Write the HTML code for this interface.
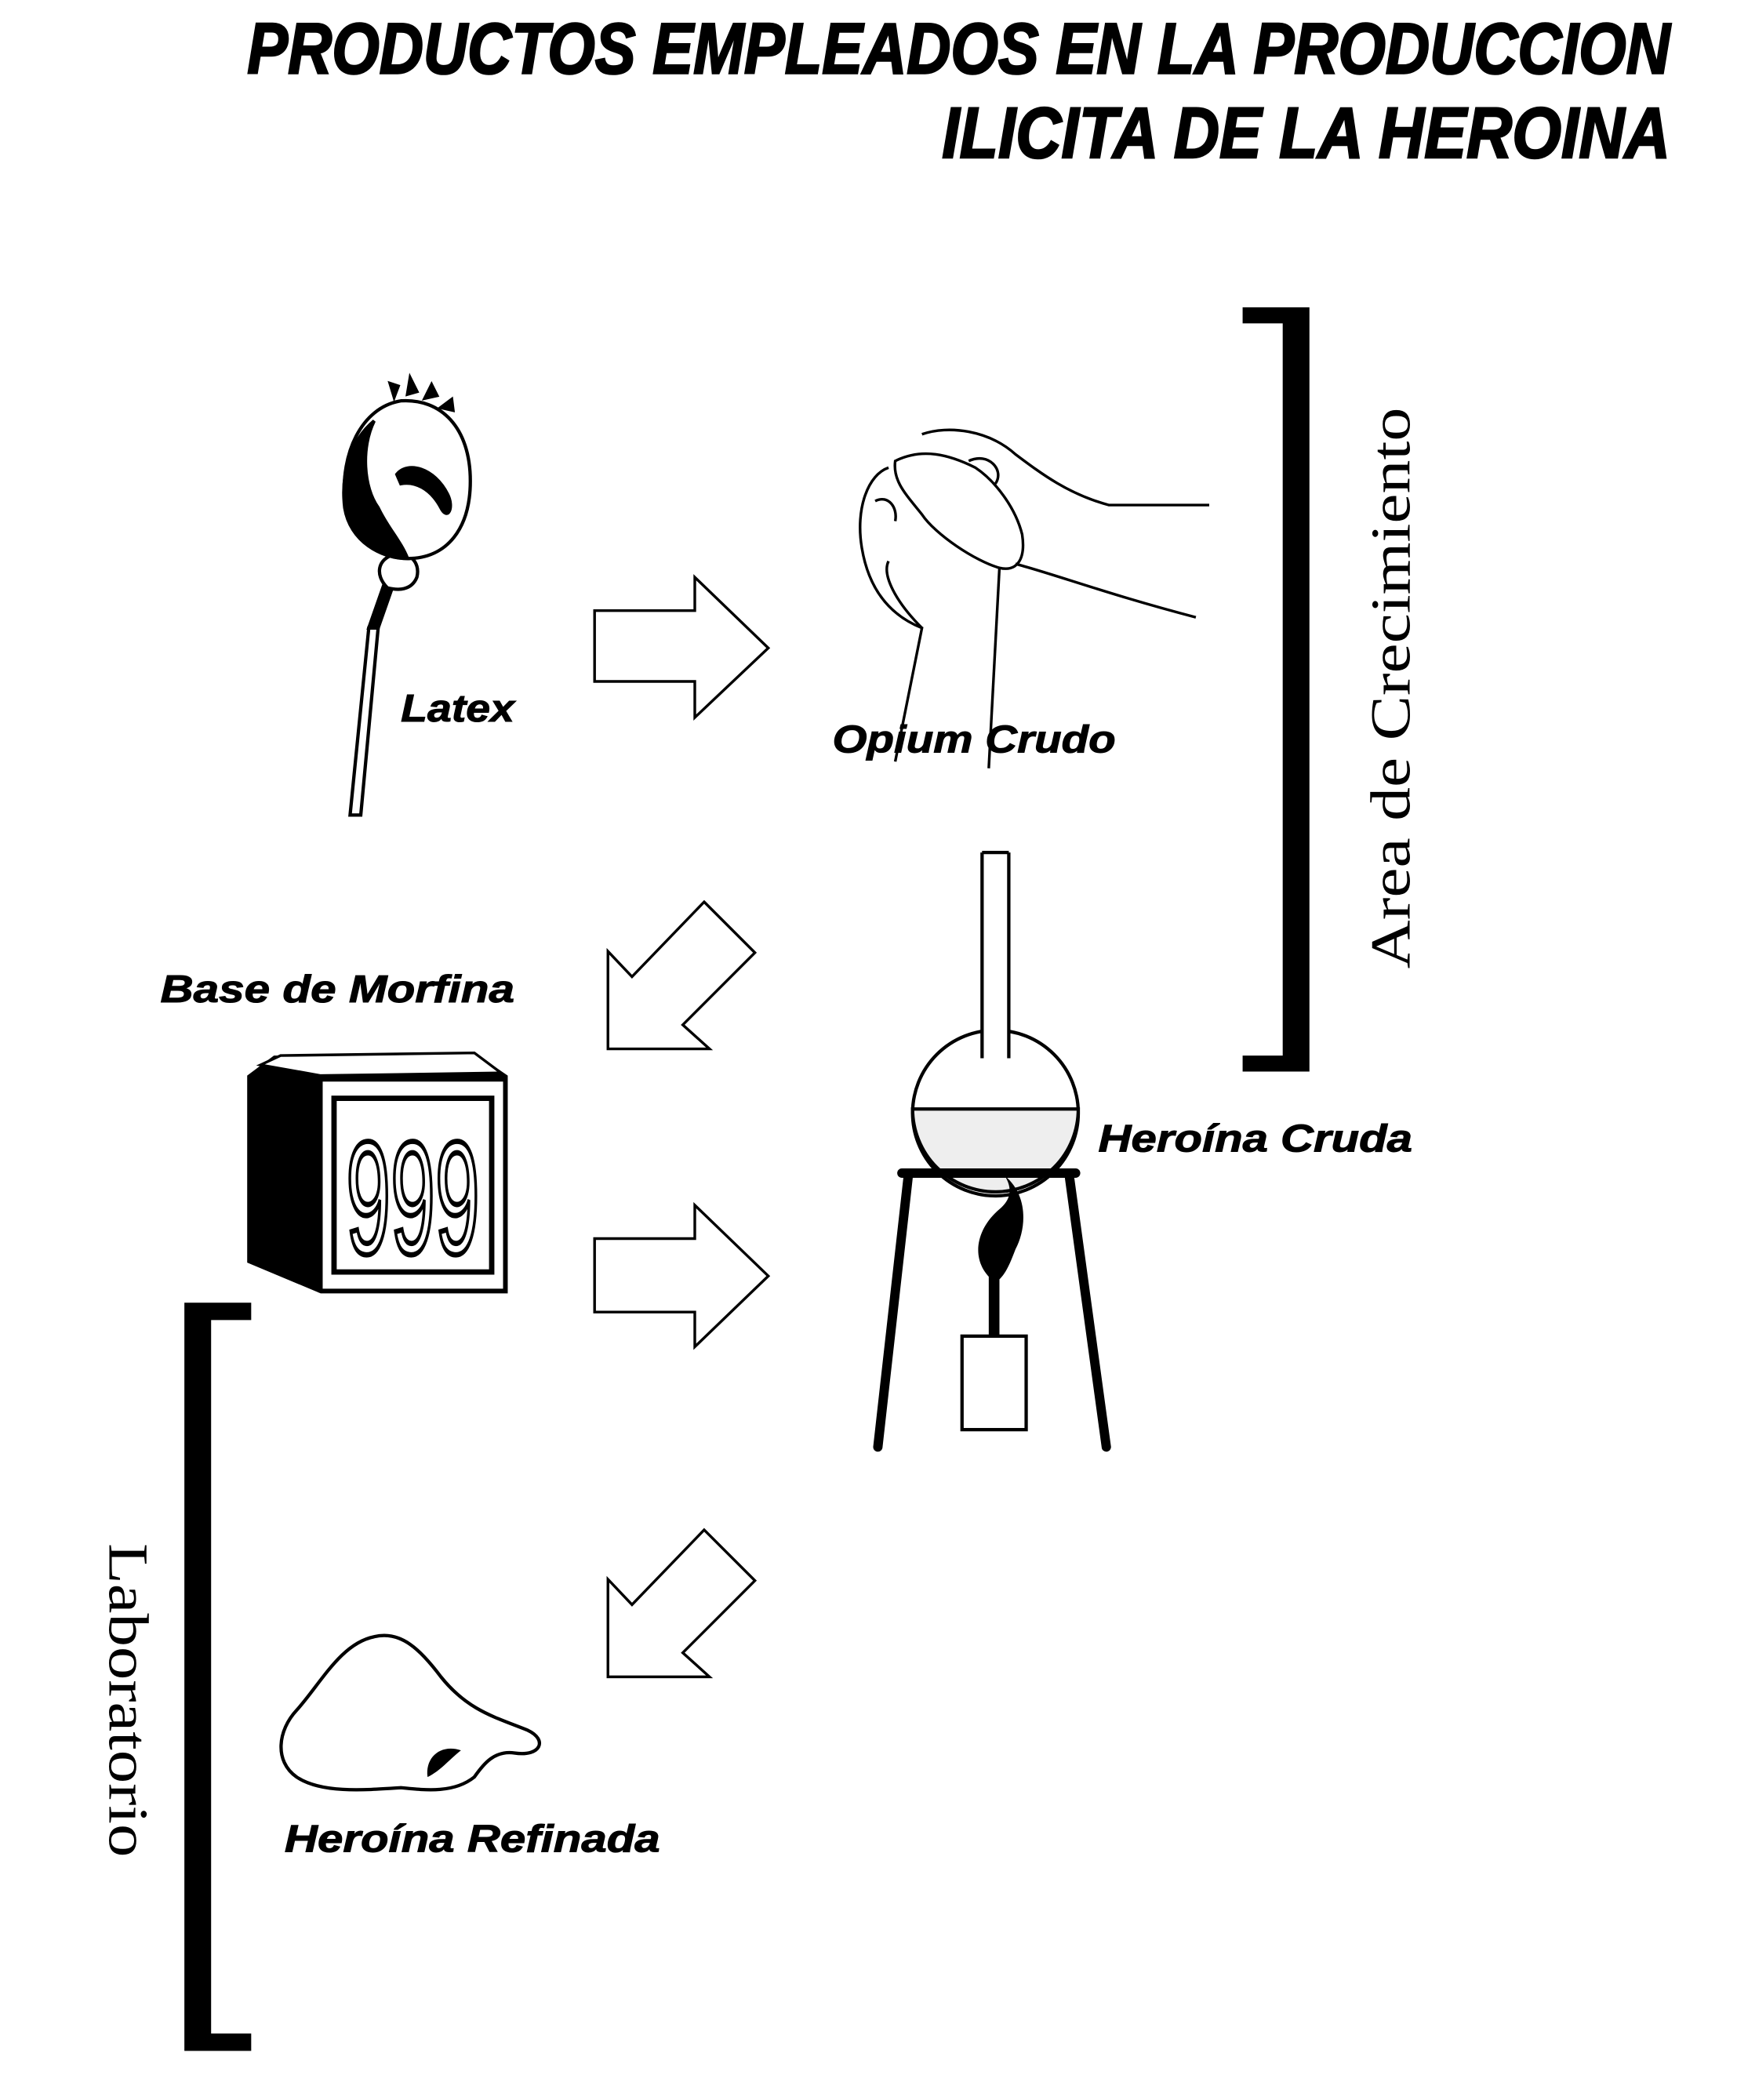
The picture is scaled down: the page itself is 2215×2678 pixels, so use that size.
<!DOCTYPE html>
<html><head><meta charset="utf-8"><style>
html,body{margin:0;padding:0;background:#fff;}
svg{display:block;}
.t{font-family:"Liberation Sans",sans-serif;font-weight:bold;font-style:italic;fill:#000;}
.s{font-family:"Liberation Serif",serif;fill:#000;}
</style></head><body>
<svg width="2215" height="2678" viewBox="0 0 1300 1571.7" xmlns="http://www.w3.org/2000/svg">
<rect width="1300" height="1572" fill="#fff"/>
<!-- Title -->
<text class="t" x="185" y="55" font-size="54" stroke="#000" stroke-width="1.5" textLength="1065" lengthAdjust="spacingAndGlyphs">PRODUCTOS EMPLEADOS EN LA PRODUCCION</text>
<text class="t" x="705" y="118" font-size="54" stroke="#000" stroke-width="1.5" textLength="545" lengthAdjust="spacingAndGlyphs">ILICITA DE LA HEROINA</text>

<!-- Right bracket -->
<path d="M930 230 H980 V802 H930 V790 H960 V242 H930 Z" fill="#000"/>
<text class="s" font-size="42" transform="translate(1055,725) rotate(-90)" textLength="420" lengthAdjust="spacingAndGlyphs">Area de Crecimiento</text>

<!-- Left bracket -->
<path d="M188 975 H138 V1535 H188 V1522 H158 V988 H188 Z" fill="#000"/>
<text class="s" font-size="42" transform="translate(82,1155) rotate(90)" textLength="235" lengthAdjust="spacingAndGlyphs">Laboratorio</text>

<!-- Arrows -->
<g fill="#fff" stroke="#000" stroke-width="2">
<path d="M445 457 H520 V432 L575 485 L520 537 V510 H445 Z"/>
<path d="M445 927 H520 V902 L575 955 L520 1008 V982 H445 Z"/>
<path d="M527 675 L565 713 L511 767 L531 785 L455 785 L455 712 L473 731 Z"/>
<path d="M527 1145 L565 1183 L511 1237 L531 1255 L455 1255 L455 1182 L473 1201 Z"/>
</g>

<!-- Labels -->
<text class="t" x="300" y="540" font-size="29" stroke="#000" stroke-width="0.6" textLength="85" lengthAdjust="spacingAndGlyphs">Latex</text>
<text class="t" x="623" y="563" font-size="29" stroke="#000" stroke-width="0.6" textLength="212" lengthAdjust="spacingAndGlyphs">Opium Crudo</text>
<text class="t" x="120" y="750" font-size="29" stroke="#000" stroke-width="0.6" textLength="265" lengthAdjust="spacingAndGlyphs">Base de Morfina</text>
<text class="t" x="822" y="862" font-size="29" stroke="#000" stroke-width="0.6" textLength="235" lengthAdjust="spacingAndGlyphs">Heroína Cruda</text>
<text class="t" x="213" y="1386" font-size="29" stroke="#000" stroke-width="0.6" textLength="281" lengthAdjust="spacingAndGlyphs">Heroína Refinada</text>

<!-- Poppy -->
<g stroke="#000" fill="none" stroke-width="2.5">
<path d="M262 610 L276 470 L283 470 L270 610 Z" fill="#fff"/>
<path d="M276 470 L290 430 L297 430 L283 470 Z" fill="#000"/>
<path d="M290 440 C280 430 283 418 295 415 C305 412 315 420 312 432 C308 442 298 442 290 440 Z" fill="#fff"/>
<path d="M300 300 C270 305 255 340 258 375 C262 405 285 418 305 418 C335 418 352 395 352 360 C352 320 330 298 300 300 Z" fill="#fff"/>
<path d="M280 315 C262 330 255 355 258 380 C262 405 285 418 305 418 C300 405 290 395 283 380 C272 365 270 335 280 315 Z" fill="#000"/>
<path d="M297 355 C305 345 325 350 335 370 C340 380 335 390 330 380 C322 365 310 360 300 362 Z" fill="#000"/>
<path d="M295 297 l-3 -10 l6 2 Z M305 295 l2 -12 l5 10 Z M318 298 l5 -10 l4 8 Z M330 305 l8 -6 l1 8 Z" fill="#000"/>
</g>

<!-- Hands -->
<g stroke="#000" fill="none" stroke-width="2">
<path d="M665 350 C650 355 640 380 645 410 C650 440 665 460 690 470 L670 570"/>
<path d="M690 470 C670 450 660 430 665 420"/>
<path d="M670 345 C690 335 710 340 730 350 C745 360 760 380 765 400 C768 420 760 428 748 425 C730 420 700 400 690 385 C678 370 668 360 670 345 Z"/>
<path d="M690 325 C710 318 740 322 760 340 C780 355 800 370 830 378 L905 378"/>
<path d="M760 422 C790 430 830 445 895 462"/>
<path d="M748 425 L740 575"/>
<path d="M725 345 C740 338 752 352 745 362"/>
<path d="M655 375 C665 370 672 380 670 390"/>
</g>

<!-- 999 box -->
<path d="M185 805 L205 790 L355 788 L380 805 L380 968 L240 968 L185 945 Z" fill="#000"/>
<path d="M195 797 L210 790 L355 788 L375 803 L240 805 Z" fill="#fff" stroke="#000" stroke-width="2"/>
<rect x="240" y="808" width="138" height="158" fill="#fff" stroke="#000" stroke-width="3"/>
<rect x="250" y="822" width="118" height="130" fill="#fff" stroke="#000" stroke-width="4"/>
<text x="309" y="938" font-family="Liberation Sans Narrow, Liberation Sans, sans-serif" font-size="120" text-anchor="middle" fill="#fff" stroke="#000" stroke-width="4" textLength="100" lengthAdjust="spacingAndGlyphs">999</text>

<!-- Flask -->
<g stroke="#000" stroke-width="2.5" fill="#fff">
<circle cx="745" cy="833" r="62"/>
<path d="M683 830 H807 A62 62 0 0 1 683 830 Z" fill="#eee"/>
<rect x="735" y="638" width="20" height="160" fill="#fff" stroke="none"/>
<path d="M735 638 V792 M755 638 V792 M735 638 H755"/>
</g>
<g stroke="#000" stroke-width="7" fill="none" stroke-linecap="round">
<path d="M675 878 H805"/>
<path d="M680 878 L657 1083"/>
<path d="M800 878 L828 1083"/>
</g>
<rect x="720" y="1000" width="48" height="70" fill="#fff" stroke="#000" stroke-width="2.5"/>
<rect x="740" y="955" width="8" height="45" fill="#000"/>
<path d="M745 960 C725 945 730 920 748 905 C760 895 755 885 752 880 C770 895 768 920 760 935 C755 948 752 955 745 960 Z" fill="#000"/>

<!-- Refined heroin -->
<path d="M280 1225 C300 1220 315 1235 330 1255 C350 1280 370 1285 395 1295 C410 1302 405 1315 385 1312 C370 1310 362 1320 355 1330 C340 1342 320 1340 300 1338 C270 1340 240 1342 222 1330 C205 1318 208 1295 222 1280 C240 1260 255 1230 280 1225 Z" fill="#fff" stroke="#000" stroke-width="2.5"/>
<path d="M320 1330 C318 1315 330 1305 345 1310 C335 1318 330 1325 320 1330 Z" fill="#000"/>
</svg>
</body></html>
